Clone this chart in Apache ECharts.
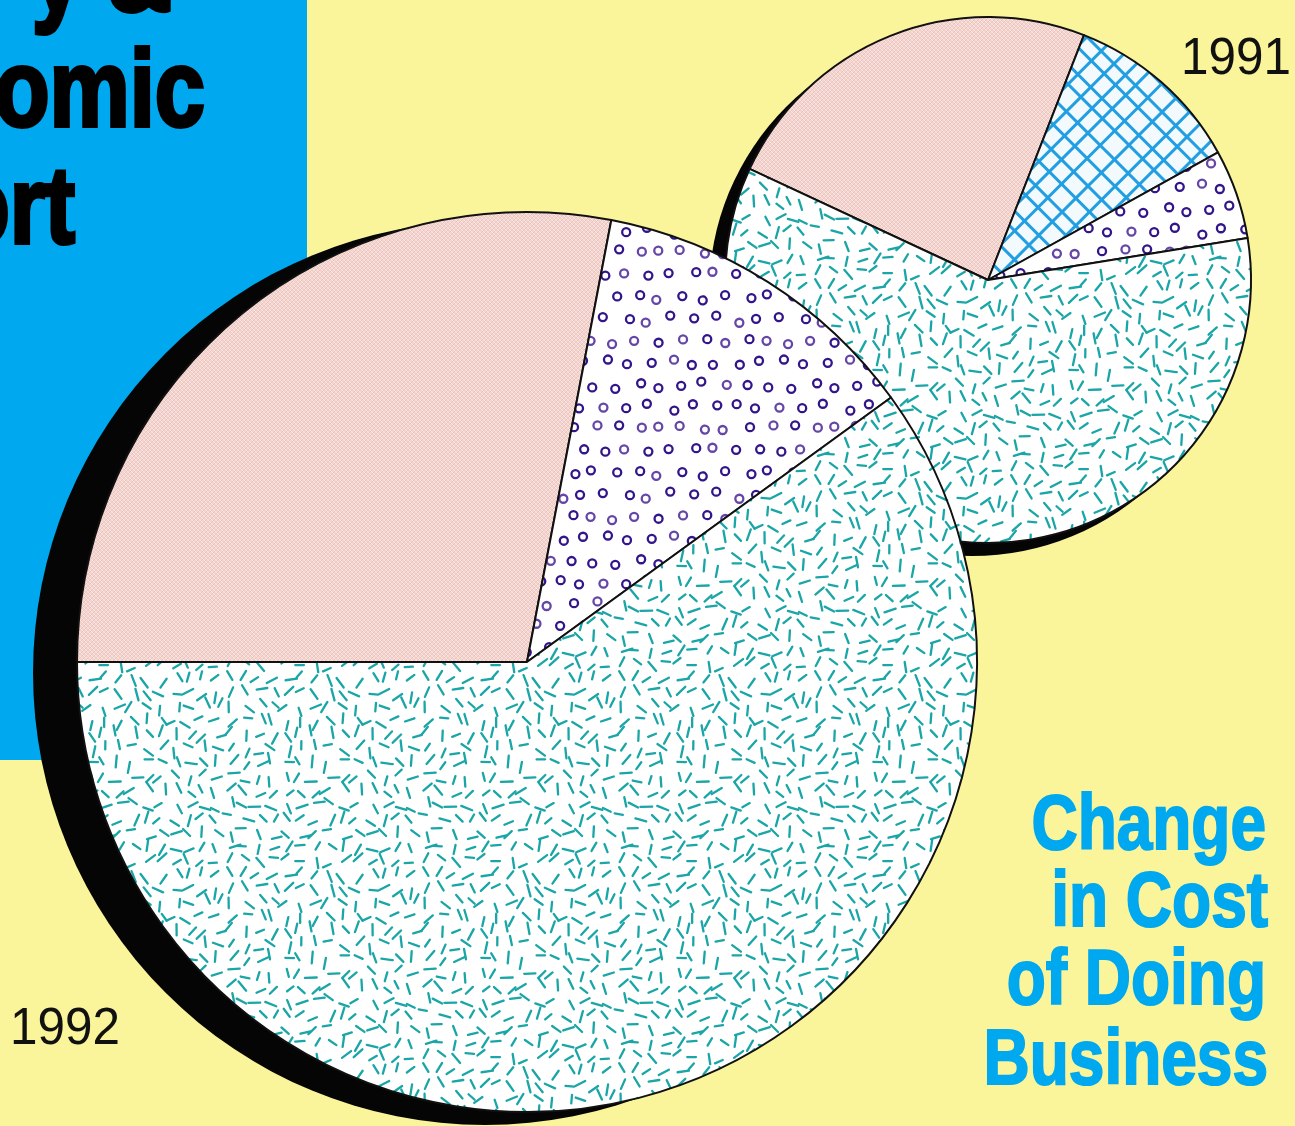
<!DOCTYPE html>
<html>
<head>
<meta charset="utf-8">
<script src="https://cdn.jsdelivr.net/npm/echarts@6/dist/echarts.min.js"></script>
<style>
  html, body { margin: 0; padding: 0; background: #faf59b; }
  #chart { width: 1295px; height: 1126px; }
</style>
</head>
<body>
<div id="chart"></div>
<script>
// Cost shares (percent of total) by component
const categories1991 = ['Woven', 'Grid', 'Rings', 'Dashes'];
const share1991 = [24, 11, 5.5, 59.5];
const categories1992 = ['Woven', 'Rings', 'Dashes'];
const share1992 = [28, 12, 60];
const yearLabels = ['1991', '1992'];
const titleLines = ['Change', 'in Cost', 'of Doing', 'Business'];
const mastheadLines = ['y &', 'omic', 'ort'];

// ---- texture tiles (seeded so every render is identical) ----
function rng(seed) {
  let s = seed >>> 0;
  return () => { s = (Math.imul(s, 1664525) + 1013904223) >>> 0; return s / 4294967296; };
}
function makeTile(size, bg, draw) {
  const c = document.createElement('canvas');
  c.width = c.height = size;
  const ctx = c.getContext('2d');
  ctx.fillStyle = bg;
  ctx.fillRect(0, 0, size, size);
  draw(ctx, size);
  return c;
}
function wrapped(T, fn) {
  for (let ox = -T; ox <= T; ox += T) for (let oy = -T; oy <= T; oy += T) fn(ox, oy);
}

// teal confetti dashes
const dashTile = makeTile(196, '#ffffff', (ctx, T) => {
  const r = rng(11), cell = 14, n = T / cell;
  ctx.strokeStyle = '#1aa5a7'; ctx.lineWidth = 2.3; ctx.lineCap = 'round';
  for (let i = 0; i < n; i++) for (let j = 0; j < n; j++) {
    const x = (i + 0.15 + r() * 0.7) * cell, y = (j + 0.15 + r() * 0.7) * cell;
    const a = r() * Math.PI, l = 8 + r() * 4;
    const dx = Math.cos(a) * l / 2, dy = Math.sin(a) * l / 2;
    wrapped(T, (ox, oy) => {
      ctx.beginPath(); ctx.moveTo(x + ox - dx, y + oy - dy); ctx.lineTo(x + ox + dx, y + oy + dy); ctx.stroke();
    });
  }
});

// purple rings
const ringTile = makeTile(176, '#ffffff', (ctx, T) => {
  const r = rng(5), cell = 22, n = T / cell;
  ctx.lineWidth = 2.3;
  for (let j = 0; j < n; j++) for (let i = 0; i < n; i++) {
    const x = (i + (j % 2) * 0.5 + 0.5) * cell + (r() - 0.5) * 8;
    const y = (j + 0.5) * cell + (r() - 0.5) * 8;
    ctx.strokeStyle = r() < 0.65 ? '#33158a' : '#6546a6';
    wrapped(T, (ox, oy) => { ctx.beginPath(); ctx.arc(x + ox, y + oy, 4, 0, Math.PI * 2); ctx.stroke(); });
  }
});

// blue diagonal lattice
const gridTile = makeTile(200, '#f2fafe', (ctx, T) => {
  const r = rng(3);
  ctx.strokeStyle = '#229ee2'; ctx.lineWidth = 3; ctx.lineCap = 'round';
  [1, -1].forEach(dir => {
    const gaps = []; for (let k = 0; k < 8; k++) gaps.push(20 + r() * 14);
    const total = gaps.reduce((a, b) => a + b, 0);
    let c = r() * 10;
    const cs = gaps.map(g => { const v = c; c += g * T / total; return v; });
    for (let k = -2; k <= 2; k++) cs.forEach(c0 => {
      const cc = c0 + k * T;
      ctx.beginPath();
      if (dir === 1) { ctx.moveTo(-T, cc + T); ctx.lineTo(2 * T, cc - 2 * T); }
      else { ctx.moveTo(-T, -T - cc); ctx.lineTo(2 * T, 2 * T - cc); }
      ctx.stroke();
    });
  });
});

// pink woven fabric
const wovenTile = makeTile(8, '#f4d4ce', (ctx, T) => {
  ctx.lineWidth = 1;
  ctx.strokeStyle = '#fbe8e4';
  for (let c = -16; c <= 24; c += 4) { ctx.beginPath(); ctx.moveTo(c, 0); ctx.lineTo(c + T, T); ctx.stroke(); }
  ctx.strokeStyle = '#eac2bb';
  for (let c = -16; c <= 24; c += 4) { ctx.beginPath(); ctx.moveTo(c + 2, T); ctx.lineTo(c + 2 + T, 0); ctx.stroke(); }
});

const fills = {
  Woven: { image: wovenTile, repeat: 'repeat' },
  Grid: { image: gridTile, repeat: 'repeat' },
  Rings: { image: ringTile, repeat: 'repeat' },
  Dashes: { image: dashTile, repeat: 'repeat' }
};

function pieSeries(center, radius, startAngle, cats, vals, z) {
  return {
    type: 'pie', center, radius, startAngle, z, silent: true,
    label: { show: false }, labelLine: { show: false }, emphasis: { disabled: true },
    itemStyle: { borderColor: '#111111', borderWidth: 2 },
    data: cats.map((c, i) => ({ name: c, value: vals[i], itemStyle: { color: fills[c] } }))
  };
}
function shadowSeries(center, radius, vals, z) {
  return {
    type: 'pie', center, radius, z, silent: true,
    label: { show: false }, labelLine: { show: false }, emphasis: { disabled: true },
    itemStyle: { color: '#050505', borderWidth: 0 },
    data: [{ name: 'drop', value: vals.reduce((a, b) => a + b, 0) }]
  };
}

const condensedBold = '"Liberation Sans", Arial, sans-serif';
function heavyText(text, x, top, size, fill, align, z, strokeW) {
  return {
    type: 'text', x, y: top, scaleX: 0.82, z, silent: true,
    style: {
      text, x: 0, y: 0, fill, stroke: fill, lineWidth: strokeW,
      font: 'bold ' + size + 'px ' + condensedBold,
      align, textAlign: align, verticalAlign: 'top', textVerticalAlign: 'top'
    }
  };
}
function yearText(text, x, top, align) {
  return {
    type: 'text', x, y: top, scaleX: 0.95, z: 20, silent: true,
    style: { text, x: 0, y: 0, fill: '#111111', font: '52px "Liberation Sans", Arial, sans-serif',
      align, textAlign: align, verticalAlign: 'top', textVerticalAlign: 'top' }
  };
}

const chart = echarts.init(document.getElementById('chart'), null, { renderer: 'canvas' });
chart.setOption({
  animation: false,
  backgroundColor: '#faf59b',
  graphic: {
    elements: [
      { type: 'rect', z: 0, silent: true, shape: { x: 0, y: 0, width: 307, height: 760 }, style: { fill: '#00a8f0' } },
      heavyText(mastheadLines[0], 172, -74, 110, '#000000', 'right', 1, 4),
      heavyText(mastheadLines[1], 205, 41, 110, '#000000', 'right', 1, 4),
      heavyText(mastheadLines[2], 75, 158, 110, '#000000', 'right', 1, 4),
      heavyText(titleLines[0], 1266, 788, 78, '#00a8f0', 'right', 20, 2),
      heavyText(titleLines[1], 1268, 865, 78, '#00a8f0', 'right', 20, 2),
      heavyText(titleLines[2], 1266, 943, 78, '#00a8f0', 'right', 20, 2),
      heavyText(titleLines[3], 1268, 1023, 78, '#00a8f0', 'right', 20, 2),
      yearText(yearLabels[0], 1291, 34, 'right'),
      yearText(yearLabels[1], 10, 1004, 'left')
    ]
  },
  series: [
    shadowSeries([972, 293], 263, share1991, 2),
    pieSeries([988, 280], 263, 155, categories1991, share1991, 3),
    shadowSeries([485, 673], 452, share1992, 4),
    pieSeries([527, 662], 450, 180, categories1992, share1992, 5)
  ]
});
</script>
</body>
</html>
